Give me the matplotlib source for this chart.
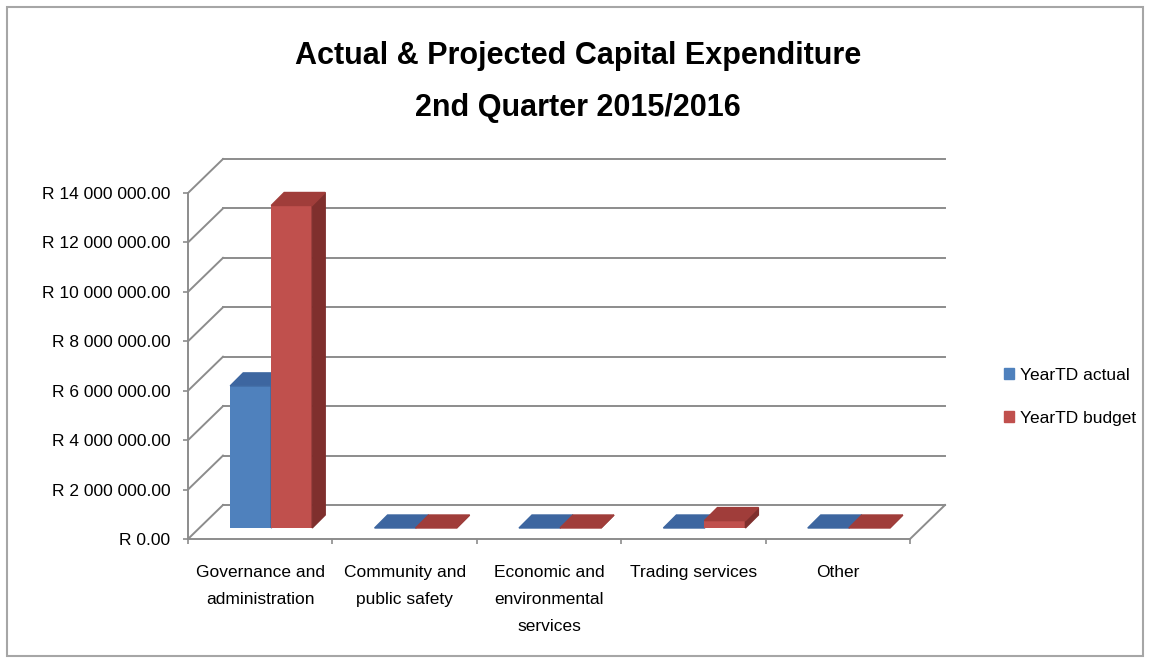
import matplotlib
matplotlib.use("Agg")
import matplotlib.pyplot as plt
from matplotlib.patches import Polygon, Rectangle, Patch

# data
categories = ["Governance and\nadministration", "Community and\npublic safety",
              "Economic and\nenvironmental\nservices", "Trading services", "Other"]
actual = [5750000, 0, 0, 0, 0]
budget = [13050000, 0, 0, 300000, 0]
series_names = ["YearTD actual", "YearTD budget"]
yticks = [0, 2e6, 4e6, 6e6, 8e6, 10e6, 12e6, 14e6]

plt.rcParams['font.family'] = ['Liberation Sans', 'DejaVu Sans']

W, H = 1150, 661
fig = plt.figure(figsize=(W / 100, H / 100), dpi=100)

# pixel geometry of the oblique "3d" box
px_cat = 144.4          # px per category
px_val = 24.714e-6      # px per unit value
x0_px, y0_px = 188, 539
ax_l, ax_r, ax_t, ax_b = 188, 960, 150, 545

ax = fig.add_axes([ax_l / W, 1 - ax_b / H, (ax_r - ax_l) / W, (ax_b - ax_t) / H])
ax.set_xlim(0, (ax_r - ax_l) / px_cat)
ax.set_ylim((y0_px - ax_b) / px_val, (y0_px - ax_t) / px_val)
ax.patch.set_alpha(0)

def dx(p):
    return p / px_cat

def dy(p):
    return p / px_val

grid = '#8c8c8c'
DX, DY = dx(35), dy(34)
n = len(categories)

# walls: back gridlines, left side diagonals, floor
for v in yticks:
    ax.plot([DX, n + DX], [v + DY, v + DY], color=grid, lw=1.4, zorder=1)
    ax.plot([0, DX], [v, v + DY], color=grid, lw=1.4, zorder=1)
ax.plot([n, n + DX], [0, DY], color=grid, lw=1.4, zorder=1)

# bars
bw = dx(41)
fx, fy = dx(11), dy(11)
bx, by = dx(13), dy(13)
styles = [('#4F81BD', '#3D66A0', '#355A8C'), ('#C0504D', '#A03D3A', '#7F2F2D')]
for i in range(n):
    for s, vals in enumerate([actual, budget]):
        front, top, side = styles[s]
        left = i + 0.5 - bw + s * bw + fx
        v = vals[i]
        z = 3 + i * 3 + s
        ax.bar(left, v, width=bw, bottom=fy, align='edge', color=front, zorder=z)
        ax.add_patch(Polygon([(left + bw, fy), (left + bw + bx, fy + by),
                              (left + bw + bx, fy + by + v), (left + bw, fy + v)],
                             closed=True, color=side, zorder=z))
        ax.add_patch(Polygon([(left, fy + v), (left + bw, fy + v),
                              (left + bw + bx, fy + v + by), (left + bx, fy + v + by)],
                             closed=True, color=top, zorder=z))

# axes styling
for sp in ['top', 'right']:
    ax.spines[sp].set_visible(False)
ax.spines['left'].set_bounds(0, 14e6)
ax.spines['left'].set_color(grid)
ax.spines['left'].set_linewidth(1.4)
ax.spines['bottom'].set_position(('data', 0))
ax.spines['bottom'].set_bounds(0, n)
ax.spines['bottom'].set_color(grid)
ax.spines['bottom'].set_linewidth(1.4)

ax.set_yticks(yticks)
ax.set_yticklabels(["R " + f"{v:,.2f}".replace(",", " ") for v in yticks])
ax.tick_params(axis='y', direction='out', length=3.6, width=1.2, color=grid,
               pad=9, labelsize=12.5)

ax.set_xticks([i + 0.5 for i in range(n)])
ax.set_xticklabels(categories, linespacing=2.0)
ax.set_xticks(range(n + 1), minor=True)
ax.tick_params(axis='x', which='major', length=0, pad=19, labelsize=12.5)
ax.tick_params(axis='x', which='minor', direction='out', length=3.6, width=1.2, color=grid)
for t in ax.get_xticklabels():
    t.set_verticalalignment('top')

# title
fig.text(578 / W, 1 - 64 / H, "Actual & Projected Capital Expenditure", ha='center',
         va='baseline', fontsize=22, fontweight='bold')
fig.text(578 / W, 1 - 116 / H, "2nd Quarter 2015/2016", ha='center',
         va='baseline', fontsize=22, fontweight='bold')

# legend
handles = [Patch(color=styles[0][0]), Patch(color=styles[1][0])]
fig.legend(handles, series_names, loc='upper left', bbox_to_anchor=(1004 / W, 1 - 368 / H),
           frameon=False, fontsize=12.5, handlelength=0.6, handleheight=0.6,
           handletextpad=0.35, labelspacing=1.6, borderpad=0, borderaxespad=0)

# outer frame
fig.patches.append(Rectangle((7 / W, 1 - 656 / H), 1136 / W, 649 / H, transform=fig.transFigure,
                             fill=False, edgecolor='#a6a6a6', lw=1.5))

fig.savefig("out.png", dpi=100)
